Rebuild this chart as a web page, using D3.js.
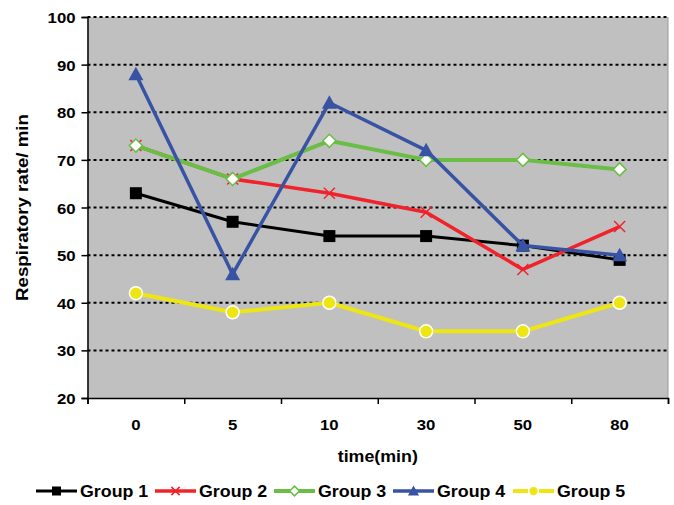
<!DOCTYPE html>
<html>
<head>
<meta charset="utf-8">
<script src="https://cdn.jsdelivr.net/npm/d3@7"></script>
<style>
  html, body { margin: 0; padding: 0; background: #fff; }
  svg { display: block; }
  text { font-family: "Liberation Sans", Arial, sans-serif; font-weight: bold; fill: #000; }
</style>
</head>
<body>
<svg id="chart" width="674" height="505"></svg>
<script>
// Time points (x categories) and respiratory rate per group
const categories = ["0", "5", "10", "30", "50", "80"];
const group1 = [63, 57, 54, 54, 52, 49];
const group2 = [73, 66, 63, 59, 47, 56];
const group3 = [73, 66, 74, 70, 70, 68];
const group4 = [88, 46, 82, 72, 52, 50];
const group5 = [42, 38, 40, 34, 34, 40];
const seriesNames = ["Group 1", "Group 2", "Group 3", "Group 4", "Group 5"];
const yTicks = [20, 30, 40, 50, 60, 70, 80, 90, 100];

const svg = d3.select("#chart");
const plot = { left: 87.5, right: 668, top: 17, bottom: 398 };
const SX = 1.08; // slight widening of glyphs along the text direction

const x = d3.scaleBand().domain(categories).range([plot.left, plot.right]);
const y = d3.scaleLinear().domain([20, 100]).range([plot.bottom, plot.top]);
const xEdge = d3.scaleLinear().domain([0, categories.length]).range([plot.left, plot.right]);

// plot background
svg.append("rect")
  .attr("x", plot.left).attr("y", plot.top)
  .attr("width", plot.right - plot.left).attr("height", plot.bottom - plot.top)
  .attr("fill", "#C0C0C0");
svg.append("line")
  .attr("x1", plot.right).attr("x2", plot.right)
  .attr("y1", plot.top).attr("y2", plot.bottom)
  .attr("stroke", "#9a9a9a").attr("stroke-width", 1);

// dotted horizontal gridlines
svg.append("g").selectAll("line")
  .data(yTicks.filter(v => v > 20))
  .join("line")
  .attr("x1", plot.left).attr("x2", plot.right)
  .attr("y1", d => y(d)).attr("y2", d => y(d))
  .attr("stroke", "#000").attr("stroke-width", 2)
  .attr("stroke-dasharray", "3,3");

// y axis
const yAxis = svg.append("g")
  .attr("transform", `translate(${plot.left},0)`)
  .call(d3.axisLeft(y).tickValues(yTicks).tickSize(6).tickFormat(d3.format("d")));
yAxis.select(".domain").attr("stroke", "#000").attr("stroke-width", 1.5);
yAxis.selectAll(".tick line").attr("stroke", "#000").attr("stroke-width", 1.5);
yAxis.selectAll(".tick text")
  .attr("x", 0).attr("dy", "0.36em")
  .attr("transform", `translate(-12,0) scale(${SX},1)`)
  .style("font-size", "15.5px");

// x axis: tick marks at category boundaries
const xEdges = svg.append("g")
  .attr("transform", `translate(0,${plot.bottom})`)
  .call(d3.axisBottom(xEdge).tickValues(d3.range(categories.length + 1)).tickSize(6).tickFormat(""));
xEdges.select(".domain").attr("stroke", "#000").attr("stroke-width", 1.5);
xEdges.selectAll(".tick line").attr("stroke", "#000").attr("stroke-width", 1.5);

// x axis: category labels centred in bands
const xAxis = svg.append("g")
  .attr("transform", `translate(0,${plot.bottom})`)
  .call(d3.axisBottom(x).tickSize(0));
xAxis.select(".domain").remove();
xAxis.selectAll(".tick text")
  .attr("y", 0).attr("dy", 0)
  .attr("transform", `translate(0,32) scale(${SX},1)`)
  .style("font-size", "15.5px");

// axis titles
svg.append("text")
  .attr("transform", `translate(${(plot.left + plot.right) / 2},462) scale(${SX},1)`)
  .attr("text-anchor", "middle")
  .style("font-size", "16.5px")
  .text("time(min)");
svg.append("text")
  .attr("transform", `translate(28,${(plot.top + plot.bottom) / 2}) rotate(-90) scale(1.1,1)`)
  .attr("text-anchor", "middle")
  .style("font-size", "17px")
  .text("Respiratory rate/ min");

// series styling
const series = [
  { name: seriesNames[0], values: group1, color: "#000000", width: 3, marker: "square" },
  { name: seriesNames[1], values: group2, color: "#F0222A", width: 3.5, marker: "cross" },
  { name: seriesNames[2], values: group3, color: "#6ABD45", width: 4, marker: "diamond" },
  { name: seriesNames[3], values: group4, color: "#3953A4", width: 3.5, marker: "triangle" },
  { name: seriesNames[4], values: group5, color: "#EEE612", width: 4, marker: "circle" }
];

function drawMarker(g, type, color, cx, cy, scale) {
  const s = scale || 1;
  if (type === "square") {
    g.append("rect")
      .attr("x", cx - 6 * s).attr("y", cy - 6 * s)
      .attr("width", 12 * s).attr("height", 12 * s)
      .attr("fill", color);
  } else if (type === "cross") {
    const r = 5.5 * s;
    g.append("path")
      .attr("d", `M${cx - r},${cy - r}L${cx + r},${cy + r}M${cx - r},${cy + r}L${cx + r},${cy - r}`)
      .attr("stroke", color).attr("stroke-width", 1.5).attr("fill", "none");
  } else if (type === "diamond") {
    const r = 6.5 * s;
    g.append("path")
      .attr("d", `M${cx},${cy - r}L${cx + r},${cy}L${cx},${cy + r}L${cx - r},${cy}Z`)
      .attr("fill", "#fff").attr("stroke", color).attr("stroke-width", 1.5);
  } else if (type === "triangle") {
    const r = 7.5 * s;
    g.append("path")
      .attr("d", `M${cx},${cy - r}L${cx + r},${cy + r * 0.8}L${cx - r},${cy + r * 0.8}Z`)
      .attr("fill", color);
  } else if (type === "circle") {
    g.append("circle")
      .attr("cx", cx).attr("cy", cy).attr("r", 6.5 * s)
      .attr("fill", color).attr("stroke", "#fff").attr("stroke-width", 1.5);
  }
}

const line = d3.line()
  .x((d, i) => x(categories[i]) + x.bandwidth() / 2)
  .y(d => y(d));

series.forEach(s => {
  const g = svg.append("g");
  g.append("path")
    .datum(s.values)
    .attr("d", line)
    .attr("fill", "none")
    .attr("stroke", s.color)
    .attr("stroke-width", s.width)
    .attr("stroke-linejoin", "round");
  s.values.forEach((v, i) => {
    drawMarker(g, s.marker, s.color, x(categories[i]) + x.bandwidth() / 2, y(v));
  });
});

// legend
const legendX = [36, 155, 274, 393, 513];
const legendY = 491;
series.forEach((s, i) => {
  const g = svg.append("g").attr("transform", `translate(${legendX[i]},${legendY})`);
  g.append("line")
    .attr("x1", 0).attr("x2", 41).attr("y1", 0).attr("y2", 0)
    .attr("stroke", s.color).attr("stroke-width", s.width);
  drawMarker(g, s.marker, s.color, 20.5, 0, 0.75);
  g.append("text")
    .attr("transform", `translate(44,6) scale(${SX},1)`)
    .style("font-size", "16.5px")
    .text(s.name);
});
</script>
</body>
</html>
